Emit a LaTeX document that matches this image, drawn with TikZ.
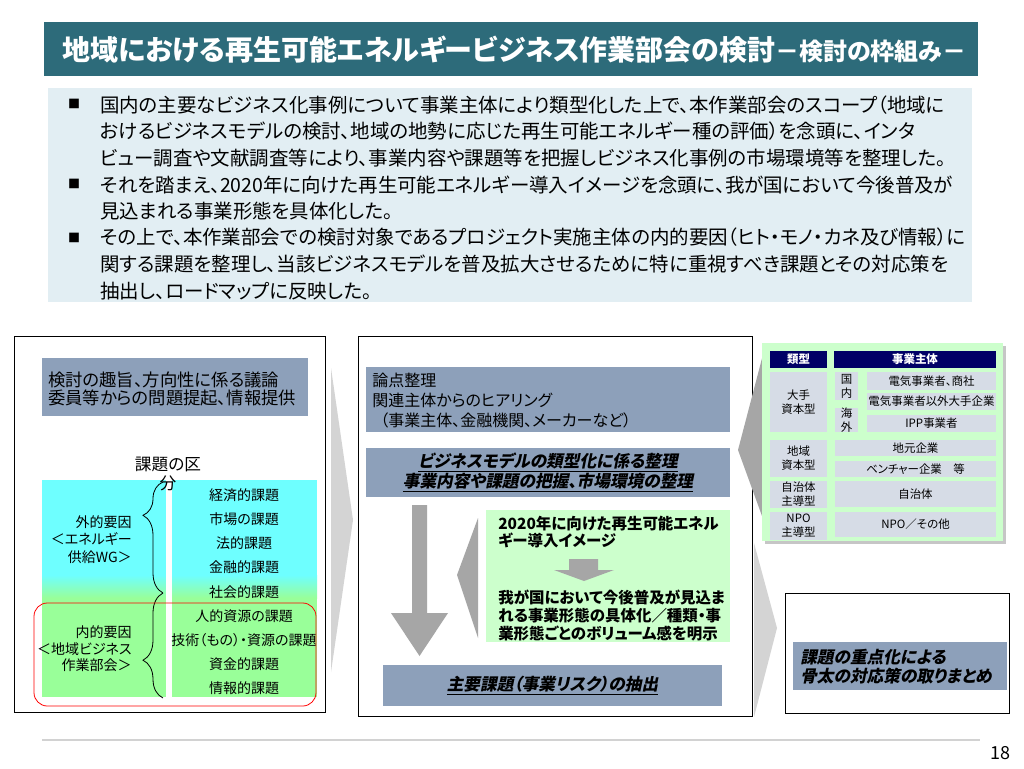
\documentclass[tikz,border=0pt]{standalone}
\usepackage{fontspec}
\setmainfont{Noto Sans CJK JP}[RawFeature=+palt]
\newfontfamily\slantfont{Noto Sans CJK JP}[RawFeature=+palt,FakeSlant=0.2]
\usetikzlibrary{fit,decorations.pathreplacing}

\definecolor{titleteal}{RGB}{45,107,122}
\definecolor{notebg}{RGB}{226,238,243}
\definecolor{slate}{RGB}{141,160,186}
\definecolor{cellgray}{RGB}{214,220,230}
\definecolor{navy}{RGB}{0,0,102}
\definecolor{paleg}{RGB}{204,255,204}
\definecolor{cyanbg}{RGB}{110,255,255}
\definecolor{greenbg}{RGB}{153,255,153}
\definecolor{darkarrow}{RGB}{166,166,166}
\definecolor{lightarrow}{RGB}{212,212,212}

\newcommand{\keyline}[1]{\underline{#1}}

\begin{document}
\begin{tikzpicture}[x=0.75pt, y=-0.75pt,
  every node/.style={inner sep=0pt},
  panel/.style={draw=black, line width=0.6pt, fill=white},
  slatebox/.style={fill=slate},
  palebox/.style={fill=paleg},
  cell/.style={fill=cellgray},
  celltext/.style={align=center, font=\fontsize{8.6}{10.5}\selectfont},
  headcell/.style={fill=navy},
  headtext/.style={text=white, font=\fontsize{8.6}{10}\selectfont\bfseries},
  notetext/.style={anchor=north west, align=left, font=\fontsize{14.6}{19.9}\selectfont},
  bulletmark/.style={font=\fontsize{9}{9}\selectfont},
  plain/.style={align=left, font=\fontsize{12}{15}\selectfont},
  sidetext/.style={anchor=north east, align=right, font=\fontsize{10.5}{13}\selectfont},
  issue/.style={anchor=north, align=center, font=\fontsize{10.5}{18.1}\selectfont},
  keytext/.style={align=center, font=\slantfont\bfseries\fontsize{12.5}{15}\selectfont},
  brace/.style={decorate, decoration={brace, amplitude=15pt, aspect=#1}, line width=0.6pt}
]
\useasboundingbox[fill=white] (0,0) rectangle (1024,768);

\node[fill=titleteal, fit={(44,22) (978,76)}] (title) {};
\node[anchor=west, text=white, font=\bfseries] (titletext) at (62,50)
  {{\fontsize{21}{24}\selectfont 地域における再生可能エネルギービジネス作業部会の検討}{\fontsize{18}{20}\selectfont －検討の枠組み－}};

\node[fill=notebg, fit={(48,88) (972,302)}] (notes) {};
\node[bulletmark] (b1) at (74,104) {■};
\node[bulletmark] (b2) at (74,184) {■};
\node[bulletmark] (b3) at (74,238) {■};
\node[notetext] (n1) at (100,95.3) {国内の主要なビジネス化事例について事業主体により類型化した上で、本作業部会のスコープ（地域に\\
おけるビジネスモデルの検討、地域の地勢に応じた再生可能エネルギー種の評価）を念頭に、インタ\\
ビュー調査や文献調査等により、事業内容や課題等を把握しビジネス化事例の市場環境等を整理した。};
\node[notetext] (n2) at (100,175.3) {それを踏まえ、2020年に向けた再生可能エネルギー導入イメージを念頭に、我が国において今後普及が\\
見込まれる事業形態を具体化した。};
\node[notetext] (n3) at (100,228) {その上で、本作業部会での検討対象であるプロジェクト実施主体の内的要因（ヒト・モノ・カネ及び情報）に\\
関する課題を整理し、当該ビジネスモデルを普及拡大させるために特に重視すべき課題とその対応策を\\
抽出し、ロードマップに反映した。};

% left panel
\node[panel, fit={(14,336) (325,712)}] (left) {};
\node[slatebox, fit={(42,358) (308,416)}] (purpose) {};
\node[plain, anchor=north west, font=\fontsize{13}{13.5}\selectfont] (purposetext) at (48,372)
  {検討の趣旨、方向性に係る議論\\委員等からの問題提起、情報提供};

\fill[cyanbg] (42,480) rectangle (317,575);
\shade[top color=cyanbg, bottom color=greenbg] (42,575) rectangle (317,598);
\fill[greenbg] (42,598) rectangle (317,697);
\fill[white] (166,480) rectangle (172,697);

\node[anchor=north, align=center, font=\fontsize{12.5}{14.25}\selectfont] (division) at (168,457) {課題の区\\分};
\node[sidetext] (external) at (132,515.4) {外的要因\\＜エネルギー\\供給WG＞};
\node[sidetext, font=\fontsize{10.5}{12.4}\selectfont] (internal) at (132,625.4) {内的要因\\＜地域ビジネス\\作業部会＞};
\coordinate (extbot) at (163,593);
\coordinate (exttop) at (163,482);
\coordinate (intbot) at (163,698);
\draw[brace=0.7] (extbot) -- (exttop);
\draw[brace=0.36] (intbot) -- (extbot);
\node[issue] (issues) at (244,488.4) {経済的課題\\市場の課題\\法的課題\\金融的課題\\社会的課題\\人的資源の課題\\技術（もの）・資源の課題\\資金的課題\\情報的課題};
\node[draw=red, line width=0.6pt, rounded corners=10pt, fit={(34,603) (316,706)}] (ownframe) {};

\fill[lightarrow] (331,368) -- (353,520) -- (331,672) -- cycle;

% middle panel
\node[panel, fit={(358,336) (752,716)}] (middle) {};
\node[slatebox, fit={(366,367) (730,432)}] (hearing) {};
\node[plain, anchor=north west] (hearingtext) at (372,372.5)
  {論点整理\\関連主体からのヒアリング\\\hspace{6pt}（事業主体、金融機関、メーカーなど）};
\node[slatebox, fit={(366,448) (730,497)}] (typing) {};
\node[keytext] (typingtext) at (typing.center)
  {\keyline{ビジネスモデルの類型化に係る整理}\\\keyline{事業内容や課題の把握、市場環境の整理}};

\fill[darkarrow] (412,505) -- (427,505) -- (427,613) -- (448,613) -- (419.5,656) -- (391,613) -- (412,613) -- cycle;
\fill[darkarrow] (478,518) -- (457,575) -- (478,638) -- cycle;

\node[palebox, fit={(486,510) (730,642)}] (image) {};
\node[plain, anchor=north west, font=\bfseries\fontsize{11.6}{13}\selectfont] (imagetop) at (498,515.5)
  {2020年に向けた再生可能エネル\\ギー導入イメージ};
\fill[darkarrow] (569,559) -- (598,559) -- (598,570) -- (614,570) -- (584,581) -- (554,570) -- (569,570) -- cycle;
\node[plain, anchor=north west, font=\bfseries\fontsize{11.6}{13.5}\selectfont] (imagebot) at (498,589.5)
  {我が国において今後普及が見込ま\\れる事業形態の具体化／種類・事\\業形態ごとのボリューム感を明示};

\node[slatebox, fit={(383,665) (722,706)}] (extract) {};
\node[keytext] (extracttext) at (extract.center) {\keyline{主要課題（事業リスク）の抽出}};

% right side
\fill[darkarrow] (766,343) -- (738,450) -- (766,527) -- cycle;
\fill[gray!45] (765,346) rectangle (1006,544);
\node[palebox, fit={(762,343) (1003,541)}] (typology) {};
\node[headcell, fit={(770,351) (827,368)}, label={[headtext]center:類型}] (typehead) {};
\node[headcell, fit={(834,351) (996,368)}, label={[headtext]center:事業主体}] (ownerhead) {};
\node[cell, fit={(770,372) (827,432)}, label={[celltext]center:{大手\\資本型}}] (large) {};
\node[cell, fit={(835,372) (858,400)}, label={[celltext]center:{国\\内}}] (domestic) {};
\node[cell, fit={(835,408) (858,432)}, label={[celltext]center:{海\\外}}] (overseas) {};
\node[cell, fit={(867,372) (996,390)}, label={[celltext]center:電気事業者、商社}] (utility) {};
\node[cell, fit={(867,393) (996,410)}, label={[celltext]center:電気事業者以外大手企業}] (bigfirm) {};
\node[cell, fit={(867,415) (996,432)}, label={[celltext]center:IPP事業者}] (ipp) {};
\node[cell, fit={(770,440) (827,477)}, label={[celltext]center:{地域\\資本型}}] (local) {};
\node[cell, fit={(835,440) (996,456)}, label={[celltext]center:地元企業}] (localfirm) {};
\node[cell, fit={(835,461) (996,477)}, label={[celltext]center:{ベンチャー企業\hspace{1em}等}}] (venture) {};
\node[cell, fit={(770,481) (827,508)}, label={[celltext]center:{自治体\\主導型}}] (munici) {};
\node[cell, fit={(835,481) (996,507)}, label={[celltext]center:自治体}] (municifirm) {};
\node[cell, fit={(770,512) (827,540)}, label={[celltext]center:{NPO\\主導型}}] (npo) {};
\node[cell, fit={(835,512) (996,537)}, label={[celltext]center:NPO／その他}] (npofirm) {};

\fill[lightarrow] (754,543) -- (777,628) -- (754,717) -- cycle;
\node[panel, fit={(785,593) (1009,713)}] (summary) {};
\node[slatebox, fit={(793,642) (1007,690)}] (focus) {};
\node[keytext, anchor=north west, align=left, font=\slantfont\bfseries\fontsize{12.5}{14.25}\selectfont] (focustext) at (800,649)
  {課題の重点化による\\骨太の対応策の取りまとめ};

\draw[gray!35, line width=1.2pt] (42,740) -- (980,740);
\node[font=\fontsize{13.5}{14}\selectfont] (page) at (1000,753) {18};
\end{tikzpicture}
\end{document}
